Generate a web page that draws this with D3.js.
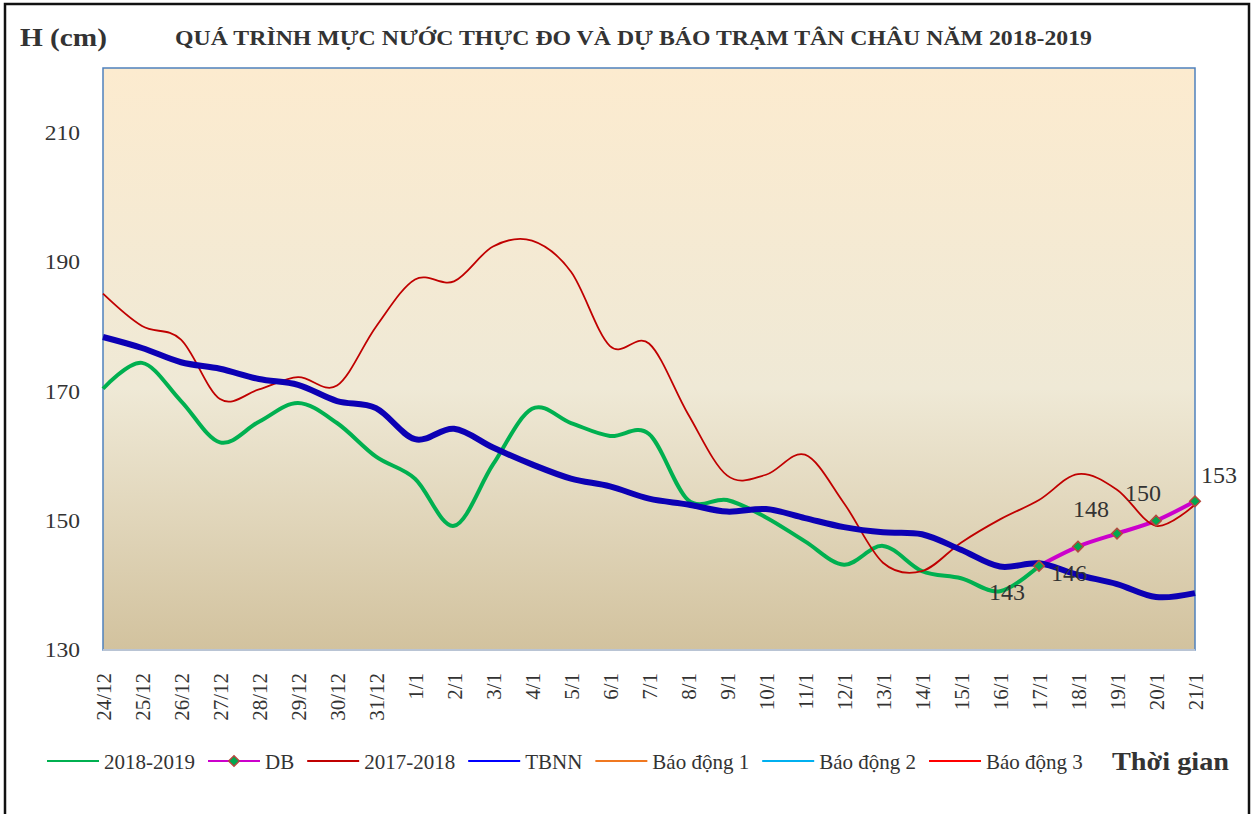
<!DOCTYPE html>
<html><head><meta charset="utf-8">
<script src="https://cdn.jsdelivr.net/npm/d3@7"></script>
<style>body{margin:0;background:#fff} text{font-family:"Liberation Serif","Times New Roman",serif;fill:#333}</style>
</head><body><svg id="c" width="1258" height="814"></svg>
<script>
const categories = ["24/12","25/12","26/12","27/12","28/12","29/12","30/12","31/12","1/1","2/1","3/1","4/1","5/1","6/1","7/1","8/1","9/1","10/1","11/1","12/1","13/1","14/1","15/1","16/1","17/1","18/1","19/1","20/1","21/1"];
const s20182019 = [170.4,174.4,168.5,162.1,165.3,168.2,165.1,159.9,156.5,149.2,158.7,167.3,165.1,163.1,163.4,153.2,153.2,150.5,146.8,143.2,146.1,142.2,141.1,139.1,143];
const sDB = [null,null,null,null,null,null,null,null,null,null,null,null,null,null,null,null,null,null,null,null,null,null,null,null,143,146,148,150,153];
const s20172018 = [185.1,180.1,178,168.8,170.3,172.2,170.9,180,187.3,187,192.4,193.3,188.5,177,177.4,166.5,157,157.1,160.2,152.7,143.5,142.2,146.6,150.2,153.2,157.2,154.8,149.2,152.5];
const sTBNN = [178.4,176.7,174.5,173.5,171.9,171,168.5,167.4,162.6,164.2,161.3,158.7,156.5,155.3,153.4,152.5,151.4,151.8,150.4,149,148.2,147.9,145.5,142.9,143.4,141.6,140.2,138.2,138.8];
const yTicks = [130,150,170,190,210];
const legendLabels = ["2018-2019","DB","2017-2018","TBNN","Báo động 1","Báo động 2","Báo động 3"];
const legendColors = ["#00B050","#CC00CC","#C00000","#0000FF","#F07820","#00B0F0","#FF0000"];

const svg = d3.select("#c");
const L = 103, R = 1195, T = 68, B = 650;

// outer frame
svg.append("rect").attr("x",5).attr("y",4).attr("width",1244).attr("height",830)
  .attr("fill","#fff").attr("stroke","#111").attr("stroke-width",2.5);

const defs = svg.append("defs");
const gr = defs.append("linearGradient").attr("id","bg").attr("x1",0).attr("y1",0).attr("x2",0).attr("y2",1);
gr.append("stop").attr("offset","0%").attr("stop-color","#FCEBCF");
gr.append("stop").attr("offset","55%").attr("stop-color","#EFE9D6");
gr.append("stop").attr("offset","100%").attr("stop-color","#D2C29E");
defs.append("clipPath").attr("id","clip").append("rect").attr("x",L-4).attr("y",T).attr("width",R-L+8).attr("height",B-T);

const x = d3.scalePoint().domain(categories).range([L,R]);
const y = d3.scaleLinear().domain([130,220]).range([B,T]);

svg.append("rect").attr("x",L).attr("y",T).attr("width",R-L).attr("height",B-T)
  .attr("fill","url(#bg)").attr("stroke","#4F81BD").attr("stroke-width",1.5);
svg.append("line").attr("x1",L).attr("x2",R).attr("y1",B).attr("y2",B).attr("stroke","#B9C4D4").attr("stroke-width",2);

function stretch(sel, f){ sel.each(function(){ const w=this.getComputedTextLength(); d3.select(this).attr("textLength",w*f).attr("lengthAdjust","spacingAndGlyphs"); }); }

// y axis
const ya = svg.append("g").attr("transform",`translate(${L},0)`)
  .call(d3.axisLeft(y).tickValues(yTicks).tickSize(0).tickPadding(23));
ya.select(".domain").remove();
ya.selectAll("text").style("font-size","21px").style("font-family","Liberation Serif").attr("fill","#333");
stretch(ya.selectAll("text"),1.12);

// x axis
const xa = svg.append("g").attr("transform",`translate(0,${B})`)
  .call(d3.axisBottom(x).tickSize(0));
xa.select(".domain").remove();
xa.selectAll("text").style("font-size","21px").style("font-family","Liberation Serif").attr("fill","#333")
  .attr("transform","rotate(-90)").attr("x",-23).attr("y",0).attr("dy","0.35em").attr("text-anchor","end");

const curve = d3.curveCatmullRom.alpha(0);
const line = d3.line().defined(d=>d!=null).x((d,i)=>x(categories[i])).y(d=>y(d)).curve(curve);
const plot = svg.append("g").attr("clip-path","url(#clip)");

plot.append("path").attr("d",line(s20182019)).attr("fill","none").attr("stroke","#00B050").attr("stroke-width",4);
plot.append("path").attr("d",line(sDB)).attr("fill","none").attr("stroke","#CC00CC").attr("stroke-width",4);
plot.append("path").attr("d",line(s20172018)).attr("fill","none").attr("stroke","#C00000").attr("stroke-width",1.8);
plot.append("path").attr("d",line(sTBNN)).attr("fill","none").attr("stroke","#0C00B4").attr("stroke-width",6);

const sym = d3.symbol().type(d3.symbolDiamond2).size(72);
const dbPts = sDB.map((v,i)=>({v,i})).filter(d=>d.v!=null);
svg.append("g").selectAll("path").data(dbPts).join("path")
  .attr("d",sym).attr("transform",d=>`translate(${x(categories[d.i])},${y(d.v)})`)
  .attr("fill","#00A84F").attr("stroke","#B5483E").attr("stroke-width",1.5);

// data labels
const offs = [[-32,26],[-9,26],[-26,-25],[-13,-28],[24,-27]];
svg.append("g").selectAll("text").data(dbPts).join("text")
  .attr("x",(d,k)=>x(categories[d.i])+offs[k][0]).attr("y",(d,k)=>y(d.v)+offs[k][1])
  .attr("dy","0.35em").attr("text-anchor","middle").style("font-size","24px").text(d=>d.v);

// titles
svg.append("text").attr("x",175).attr("y",45).style("font-size","21px").style("font-weight","bold")
  .attr("textLength",917).attr("lengthAdjust","spacingAndGlyphs")
  .text("QUÁ TRÌNH MỰC NƯỚC THỰC ĐO VÀ DỰ BÁO TRẠM TÂN CHÂU NĂM 2018-2019");
svg.append("text").attr("x",20).attr("y",46).style("font-size","25px").style("font-weight","bold")
  .attr("textLength",87).attr("lengthAdjust","spacingAndGlyphs").text("H (cm)");

// legend
const lg = svg.append("g");
let lx = 47; const ly = 761;
legendLabels.forEach((lab,k)=>{
  lg.append("line").attr("x1",lx).attr("x2",lx+52).attr("y1",ly).attr("y2",ly).attr("stroke",legendColors[k]).attr("stroke-width",2);
  if(k===1){ lg.append("path").attr("d",sym).attr("transform",`translate(${lx+26},${ly})`).attr("fill","#00A84F").attr("stroke","#B5483E").attr("stroke-width",1.5); }
  const t = lg.append("text").attr("x",lx+57).attr("y",ly+8).style("font-size","21px").text(lab);
  lx = lx + 57 + t.node().getComputedTextLength() + 13;
});
svg.append("text").attr("x",1112).attr("y",770).style("font-size","25px").style("font-weight","bold")
  .attr("textLength",117).attr("lengthAdjust","spacingAndGlyphs").text("Thời gian");
</script></body></html>
